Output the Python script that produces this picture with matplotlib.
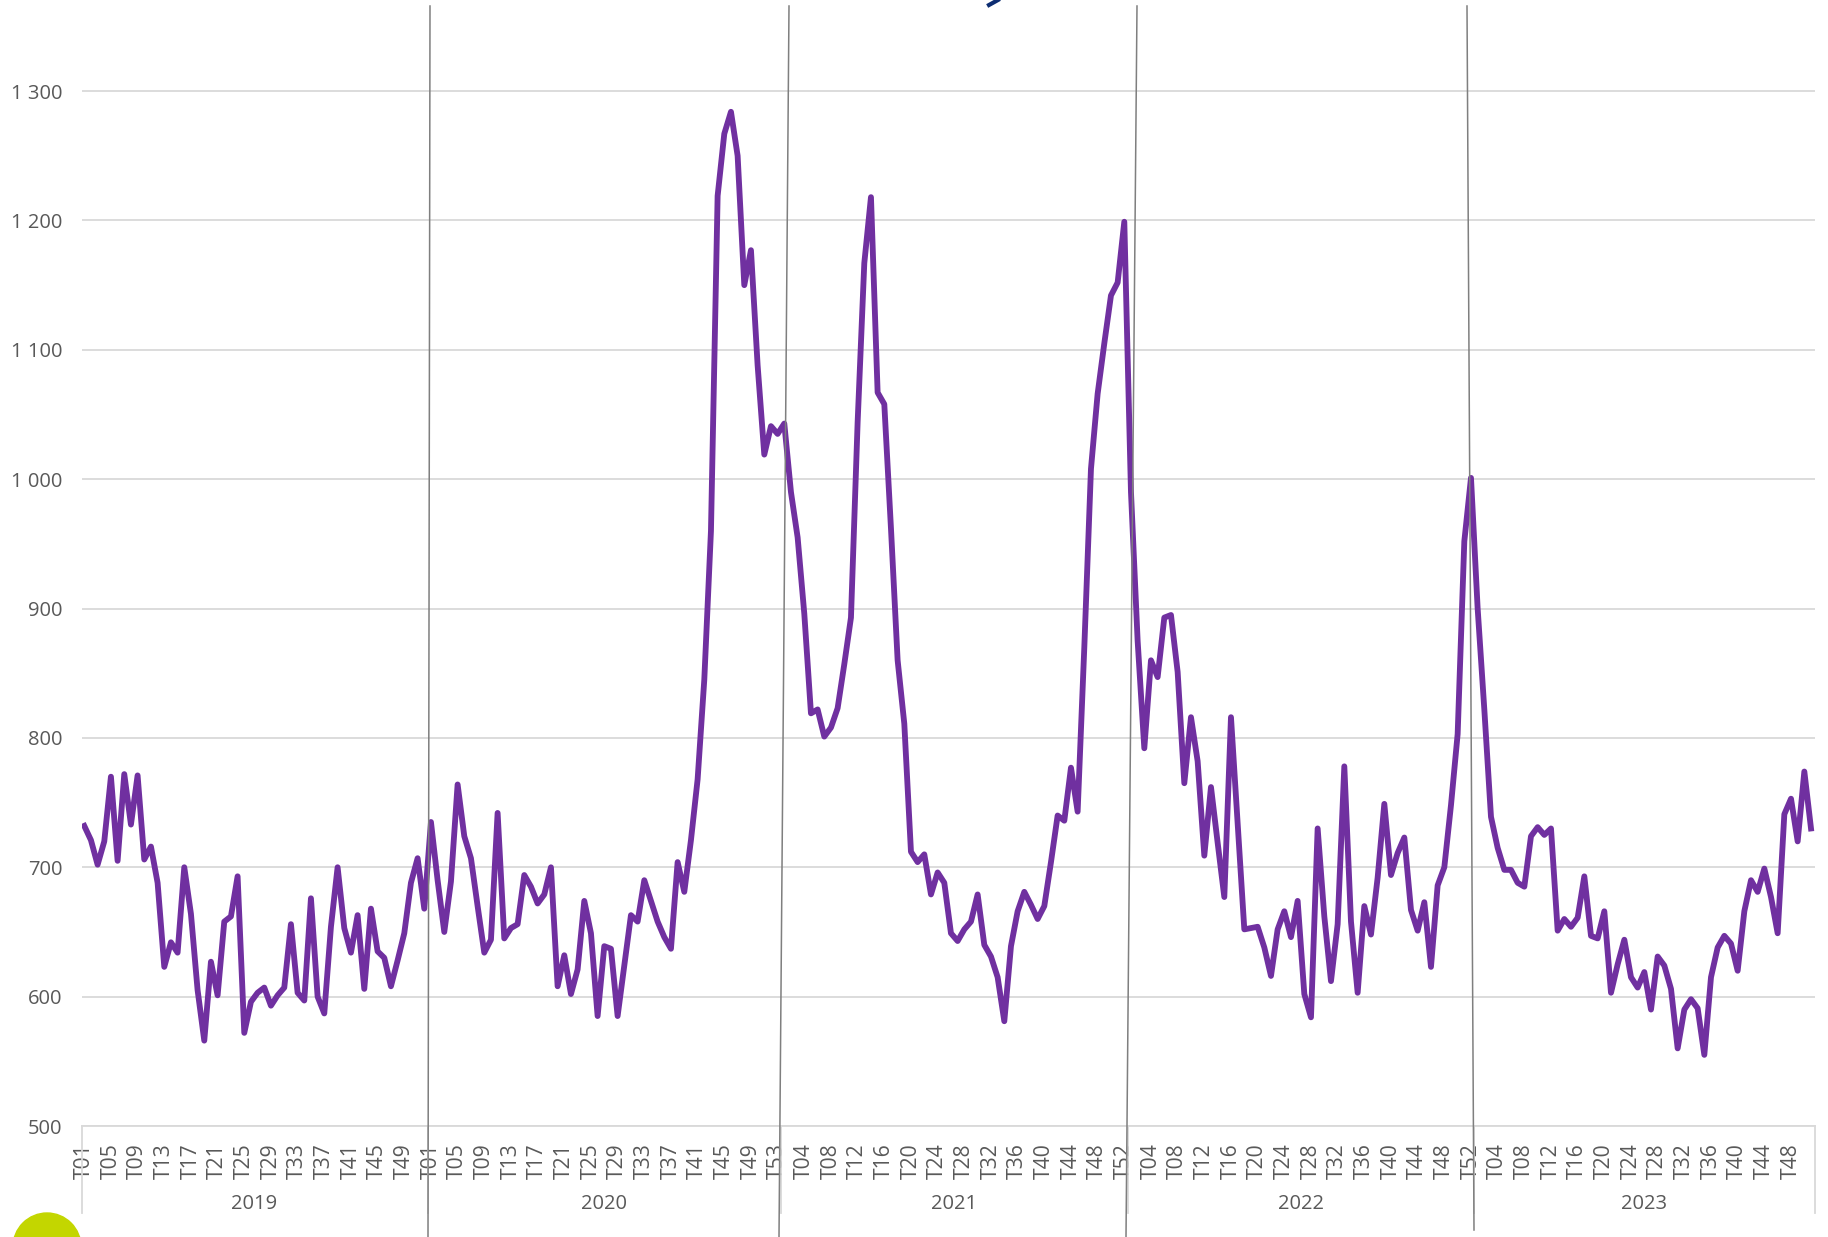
import matplotlib
matplotlib.use("Agg")
import matplotlib.pyplot as plt
import matplotlib.transforms as mtransforms
from matplotlib.lines import Line2D
from matplotlib.patches import Ellipse
import numpy as np

# weekly values, one list per year
years = [2019, 2020, 2021, 2022, 2023]
weeks_in_year = [52, 53, 52, 52, 51]

v2019 = [732, 721, 702, 720, 770, 705, 772, 733, 771, 706, 716, 688, 623, 642, 634, 700,
         664, 605, 566, 627, 601, 658, 662, 693, 572, 596, 603, 607, 593, 601, 607, 656,
         603, 597, 676, 600, 587, 654, 700, 653, 634, 663, 606, 668, 635, 630, 608, 628,
         649, 688, 707, 668]
v2020 = [735, 690, 650, 689, 764, 724, 707, 670, 634, 644, 742, 645, 653, 656, 694, 685,
         672, 679, 700, 608, 632, 602, 621, 674, 649, 585, 639, 637, 585, 624, 663, 658,
         690, 674, 658, 646, 637, 704, 681, 721, 768, 845, 960, 1219, 1267, 1284, 1250, 1150,
         1177, 1088, 1019, 1041, 1035]
v2021 = [1043, 990, 955, 896, 819, 822, 801, 808, 823, 857, 893, 1044, 1167, 1218, 1067, 1058,
         962, 860, 811, 712, 704, 710, 679, 696, 688, 649, 643, 652, 658, 679, 640, 631,
         615, 581, 639, 666, 681, 671, 660, 670, 704, 740, 736, 777, 743, 870, 1008, 1066,
         1105, 1142, 1152, 1199]
v2022 = [990, 875, 792, 860, 847, 893, 895, 851, 765, 816, 782, 709, 762, 719, 677, 816,
         734, 652, 653, 654, 638, 616, 652, 666, 646, 674, 602, 584, 730, 662, 612, 656,
         778, 658, 603, 670, 648, 692, 749, 694, 711, 723, 667, 651, 673, 623, 686, 700,
         748, 803, 952, 1001]
v2023 = [900, 822, 739, 715, 698, 698, 688, 685, 724, 731, 725, 730, 651, 660, 654, 661,
         693, 647, 645, 666, 603, 625, 644, 615, 607, 619, 590, 631, 624, 606, 560, 590,
         598, 591, 555, 615, 638, 647, 641, 620, 666, 690, 681, 699, 677, 649, 741, 753,
         720, 774, 730]

y_ticks = [500, 600, 700, 800, 900, 1000, 1100, 1200, 1300]
y_tick_labels = ["500", "600", "700", "800", "900", "1 000", "1 100", "1 200", "1 300"]

values = v2019 + v2020 + v2021 + v2022 + v2023
weeks = [w for n in weeks_in_year for w in range(1, n + 1)]
x = np.arange(len(values))

W, H = 1828, 1237
grey_txt = "#595959"
grid_c = "#d9d9d9"
font = "Open Sans"

fig = plt.figure(figsize=(W / 100, H / 100), dpi=100)
ax = fig.add_axes([81.6 / W, 1 - 1126 / H, (1815 - 81.6) / W, (1126 - 7) / H])

ax.plot(x, values, color="#7030A0", lw=4.2, solid_joinstyle="round", zorder=3)

ax.set_xlim(-0.4, len(values) - 0.4)
ax.set_ylim(500, 1365)
ax.set_yticks(y_ticks)
ax.set_yticklabels(y_tick_labels, fontsize=14.5, color=grey_txt, family=font)
ax.yaxis.grid(True, color=grid_c, lw=1.3)
ax.set_axisbelow(True)

tick_pos = x[::4]
ax.set_xticks(tick_pos)
ax.set_xticklabels([f"T{weeks[i]:02d}" for i in tick_pos], rotation=90,
                   fontsize=15.2, color=grey_txt, family=font)
ax.tick_params(axis="both", length=0)
ax.tick_params(axis="y", pad=14)
ax.tick_params(axis="x", pad=12.5)

for s in ["top", "right", "left"]:
    ax.spines[s].set_visible(False)
ax.spines["bottom"].set_color(grid_c)
ax.spines["bottom"].set_linewidth(1.3)

# multi-level category axis: year labels and separators
trans = mtransforms.blended_transform_factory(ax.transData, ax.transAxes)
start = 0
bounds = [ax.get_xlim()[0]]
for yr, n in zip(years, weeks_in_year):
    ax.text(start + (n - 1) / 2, -0.0695, str(yr), transform=trans, ha="center",
            va="center", fontsize=14.5, color=grey_txt, family=font)
    start += n
    bounds.append(start - 0.5)
bounds[-1] = ax.get_xlim()[1]
for b in bounds:
    ax.plot([b, b], [0, -0.078], transform=trans, color=grid_c, lw=1.3, clip_on=False)

# hand-drawn year separators over the chart
seps = [((430, 6), (428, 1237)), ((789, 6), (779, 1237)),
        ((1137, 6), (1126, 1237)), ((1467, 6), (1474, 1230))]
for (x0, y0), (x1, y1) in seps:
    fig.add_artist(Line2D([x0 / W, x1 / W], [1 - y0 / H, 1 - y1 / H],
                          transform=fig.transFigure, color="#7f7f7f", lw=1.1, zorder=5))

# decorations
fig.add_artist(Ellipse((47 / W, 1 - 1247 / H), 68 / W, 68 / H,
                       transform=fig.transFigure, color="#c3d600", zorder=6))
fig.add_artist(Line2D([989 / W, 998 / W], [1 - 5 / H, 1 - 0 / H],
                      transform=fig.transFigure, color="#0d2d72", lw=3, zorder=6))

fig.savefig("out.png", dpi=100)
